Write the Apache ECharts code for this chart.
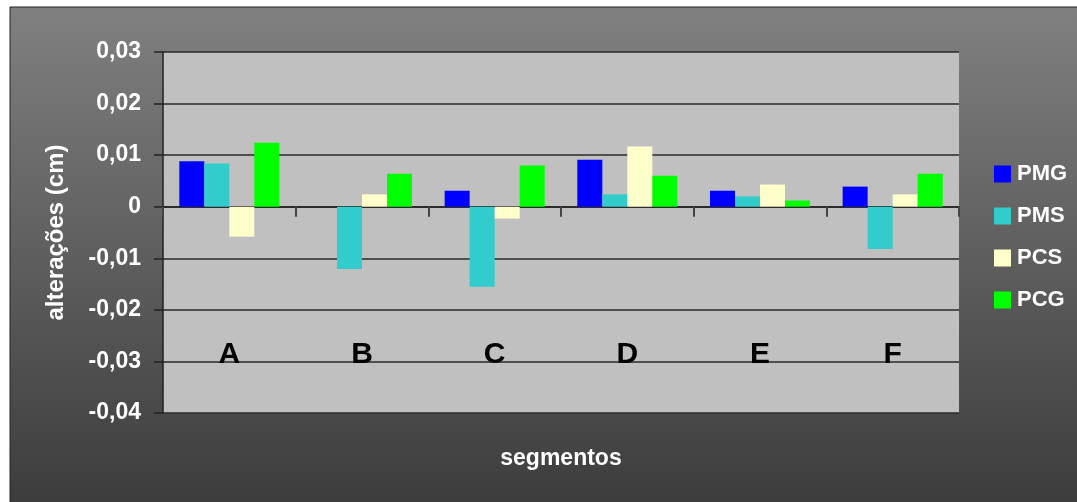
<!DOCTYPE html>
<html>
<head>
<meta charset="utf-8">
<script src="https://cdn.jsdelivr.net/npm/echarts@6/dist/echarts.min.js"></script>
<style>
html,body{margin:0;padding:0;background:#fff;}
#c{width:1077px;height:502px;}
</style>
</head>
<body>
<div id="c"></div>
<script>
const categories = ['A','B','C','D','E','F'];
const PMG = [0.0088, 0, 0.0031, 0.0091, 0.0031, 0.0039];
const PMS = [0.0084, -0.0121, -0.0155, 0.0024, 0.0020, -0.0082];
const PCS = [-0.0058, 0.0024, -0.0023, 0.0117, 0.0043, 0.0024];
const PCG = [0.0124, 0.0064, 0.0080, 0.0060, 0.0012, 0.0064];
const seriesNames = ['PMG','PMS','PCS','PCG'];
const colors = ['#0000FF','#33CCCC','#FFFFCC','#00FF00'];
const yMin = -0.04, yMax = 0.03, yStep = 0.01;

const chart = echarts.init(document.getElementById('c'), null, {renderer:'canvas'});
const fontFam = '"Liberation Sans", Arial, sans-serif';
const seriesData = [PMG, PMS, PCS, PCG];

chart.setOption({
  backgroundColor: '#ffffff',
  animation: false,
  graphic: [{
    type: 'rect',
    z: -10,
    shape: {x: 10, y: 7, width: 1070, height: 500},
    style: {
      fill: new echarts.graphic.LinearGradient(0, 0, 0, 1, [
        {offset: 0, color: '#808080'},
        {offset: 1, color: '#3c3c3c'}
      ]),
      stroke: '#222', lineWidth: 1
    }
  }],
  grid: {left: 163, right: 118, top: 52, bottom: 89, show: true,
         containLabel: false, outerBoundsMode: 'none',
         backgroundColor: '#C0C0C0', borderWidth: 0},
  legend: {
    orient: 'vertical', left: 989, top: 158, itemGap: 20, itemWidth: 17, itemHeight: 17, icon: 'rect',
    textStyle: {color: '#fff', fontWeight: 'bold', fontSize: 22, fontFamily: fontFam, padding: [0,0,0,1]},
    data: seriesNames
  },
  xAxis: {
    type: 'category', data: categories,
    axisLine: {onZero: true, lineStyle: {color: '#222', width: 1.5}},
    axisTick: {show: true, length: 10, inside: false, lineStyle: {color: '#444', width: 2}},
    axisLabel: {margin: -58, verticalAlign: 'middle', color: '#000', fontWeight: 'bold', fontSize: 30, fontFamily: fontFam},
    name: 'segmentos', nameLocation: 'middle', nameGap: 46, nameTextStyle: {color: '#fff', fontWeight: 'bold', fontSize: 23, fontFamily: fontFam, verticalAlign: 'middle'}
  },
  yAxis: {
    type: 'value', min: yMin, max: yMax, interval: yStep,
    axisLine: {show: true, onZero: false, lineStyle: {color: '#222', width: 1.5}},
    axisTick: {show: true, length: 9, lineStyle: {color: '#222', width: 1.5}},
    splitLine: {lineStyle: {color: '#2a2a2a', width: 1.5}},
    axisLabel: {
      color: '#fff', fontWeight: 'bold', fontSize: 23, fontFamily: fontFam, margin: 22,
      formatter: v => {
        const r = Math.round(v * 100) / 100;
        if (r === 0) return '0';
        return r.toFixed(2).replace('.', ',');
      }
    },
    name: 'alterações (cm)', nameLocation: 'middle', nameGap: 107, nameRotate: 90,
    nameTextStyle: {color: '#fff', fontWeight: 'bold', fontSize: 24, fontFamily: fontFam, verticalAlign: 'middle'}
  },
  series: seriesNames.map((n, i) => ({
    name: n, type: 'bar', data: seriesData[i],
    itemStyle: {color: colors[i]},
    barGap: '0%', barCategoryGap: '24.6%'
  }))
});
</script>
</body>
</html>
